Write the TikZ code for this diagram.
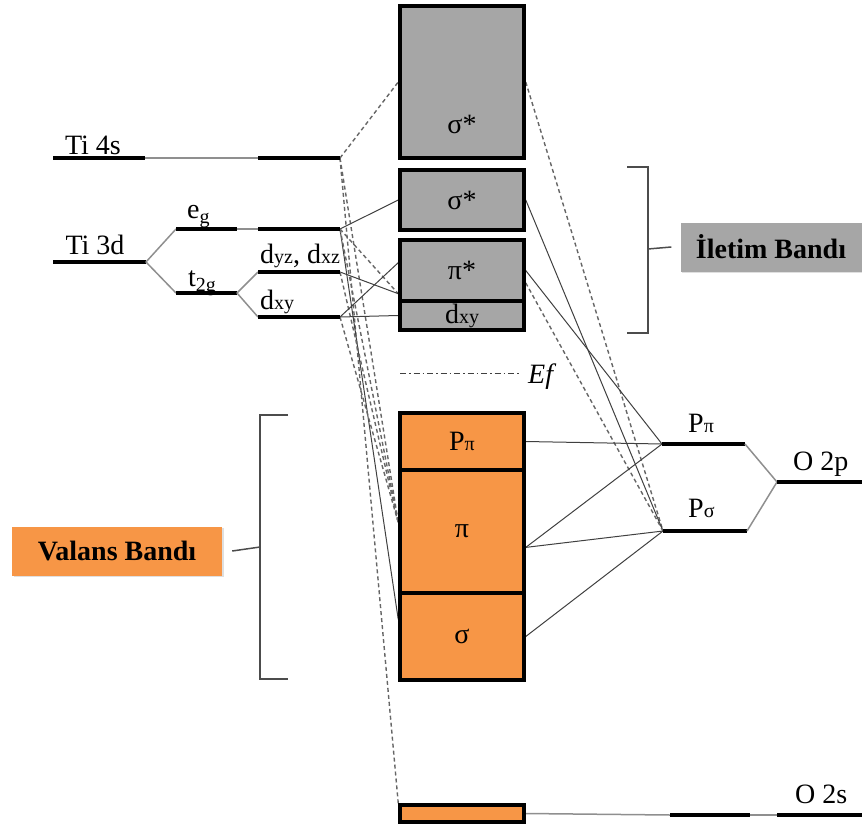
\documentclass[tikz,border=0pt]{standalone}
\usepackage{fontspec}
\setmainfont{Liberation Serif}
\usepackage{tikz}
\usetikzlibrary{positioning, shadows}

\definecolor{condgray}{HTML}{A6A6A6}
\definecolor{valorange}{HTML}{F79646}
\definecolor{splitgray}{HTML}{8F8F8F}
\definecolor{linegray}{HTML}{404040}

\newcommand{\mofont}{\fontsize{28}{30}\selectfont}
\newcommand{\smallsub}[1]{{\fontsize{20}{22}\selectfont #1}}
\newcommand{\lowsub}[1]{\raisebox{-5pt}{\smallsub{#1}}}

\begin{document}
\begin{tikzpicture}[x=1pt, y=-1pt,
    band/.style={draw, line width=3.5pt, minimum width=124pt, inner sep=0pt, font=\mofont},
    cond/.style={fill=condgray},
    val/.style={fill=valorange},
    lbl/.style={font=\mofont, inner sep=0pt},
    lvl/.style={line width=4pt},
    gap/.style={line width=1.5pt, draw=splitgray},
    conn/.style={line width=1pt, draw=linegray},
    dconn/.style={line width=1.4pt, draw=linegray!80, dash pattern=on 4pt off 3pt},
    bracket/.style={line width=1.5pt, draw=black!70},
    tag/.style={font=\mofont\bfseries, minimum width=181pt, minimum height=49pt,
                inner sep=0pt, drop shadow={opacity=0.25, shadow xshift=1.5pt, shadow yshift=-1.5pt}}
]
\useasboundingbox (0,0) rectangle (862,827);

% Ti levels
\coordinate (s4a) at (53,158);  \coordinate (s4b) at (145,158);
\coordinate (s4c) at (258,158); \coordinate (s4R) at (340,158);
\coordinate (d3a) at (53,262);  \coordinate (d3b) at (146,262);
\coordinate (ega) at (176,229); \coordinate (egb) at (237,229);
\coordinate (egc) at (258,229); \coordinate (egR) at (340,229);
\coordinate (t2a) at (176,293); \coordinate (t2b) at (237,293);
\coordinate (dyzL) at (258,272); \coordinate (dyzR) at (340,272);
\coordinate (dxyL) at (258,317); \coordinate (dxyR) at (340,317);

% O levels
\coordinate (ppL) at (662,444); \coordinate (ppR) at (745,444);
\coordinate (psL) at (663,531); \coordinate (psR) at (747,531);
\coordinate (o2pL) at (777,482); \coordinate (o2pR) at (862,482);
\coordinate (o2sa) at (670,815); \coordinate (o2sb) at (750,815);
\coordinate (o2sc) at (777,815); \coordinate (o2sd) at (862,815);

% Bands (geometry only, drawn later on top)
\path (462,82) node[band, cond, minimum height=152pt] (sigTop) {}
      (462,200) node[band, cond, minimum height=60pt] (sigB) {}
      (462,270.5) node[band, cond, minimum height=61pt] (piS) {}
      (462,315.5) node[band, cond, minimum height=29pt] (dxyB) {}
      (462,441.5) node[band, val, minimum height=57pt] (ppB) {}
      (462,531.5) node[band, val, minimum height=123pt] (piB) {}
      (462,636.5) node[band, val, minimum height=87pt] (sigBot) {}
      (462,813.5) node[band, val, minimum height=17pt] (o2sB) {};

% Ti side connectors
\draw[dconn] (s4R) -- (sigTop.west);
\draw[dconn] (s4R) -- (o2sB.north west);
\draw[dconn] (s4R) -- (piB.172);
\draw[conn]  (egR) -- (sigB.west);
\draw[dconn] (egR) -- (piS.200);
\draw[conn]  (egR) -- (sigBot.165);
\draw[dconn] (egR) -- (piB.172);
\draw[conn]  (dyzR) -- (piS.200);
\draw[dconn] (dyzR) -- (piB.172);
\draw[conn]  (dxyR) -- (piS.173);
\draw[conn]  (dxyR) -- (dxyB.west);
\draw[dconn] (dxyR) -- (piB.172);

% O side connectors
\draw[dconn] (sigTop.east) -- (psL);
\draw[conn]  (sigB.east) -- (psL);
\draw[conn]  (piS.east) -- (ppL);
\draw[dconn] (piS.349) -- (psL);
\draw[conn]  (ppB.east) -- (ppL);
\draw[conn]  (piB.346) -- (ppL);
\draw[conn]  (piB.346) -- (psL);
\draw[conn]  (sigBot.east) -- (psL);
\draw[gap]   (o2sB.east) -- (o2sa);

% Bands on top
\node[band, cond, minimum height=152pt] at (sigTop) {};
\node[band, cond, minimum height=60pt] at (sigB) {σ*};
\node[band, cond, minimum height=61pt] at (piS) {π*};
\node[band, cond, minimum height=29pt] at (dxyB) {d\smallsub{xy}};
\node[band, val, minimum height=57pt] at (ppB) {P\smallsub{π}};
\node[band, val, minimum height=123pt] at (piB) {π};
\node[band, val, minimum height=87pt] at (sigBot) {σ};
\node[band, val, minimum height=17pt] at (o2sB) {};
\node[lbl] (sigTopT) at (462,124) {σ*};

% Fermi level
\coordinate (efL) at (400,373); \coordinate (efR) at (521,373);
\draw[line width=1pt, draw=linegray, dash pattern=on 6pt off 3pt on 1.5pt off 3pt] (efL) -- (efR);
\node[lbl, anchor=base west] (ef) at (528,383) {\textit{Ef}};

% Ti level lines
\draw[lvl] (s4a) -- (s4b);  \draw[gap] (s4b) -- (s4c);  \draw[lvl] (s4c) -- (s4R);
\draw[lvl] (d3a) -- (d3b);
\draw[gap] (d3b) -- (ega);  \draw[gap] (d3b) -- (t2a);
\draw[lvl] (ega) -- (egb);  \draw[gap] (egb) -- (egc);  \draw[lvl] (egc) -- (egR);
\draw[lvl] (t2a) -- (t2b);
\draw[gap] (t2b) -- (dyzL); \draw[gap] (t2b) -- (dxyL);
\draw[lvl] (dyzL) -- (dyzR);
\draw[lvl] (dxyL) -- (dxyR);

% O level lines
\draw[lvl] (ppL) -- (ppR);
\draw[lvl] (psL) -- (psR);
\draw[gap] (ppR) -- (o2pL); \draw[gap] (psR) -- (o2pL);
\draw[lvl] (o2pL) -- (o2pR);
\draw[lvl] (o2sa) -- (o2sb); \draw[gap] (o2sb) -- (o2sc); \draw[lvl] (o2sc) -- (o2sd);

% Level labels
\node[lbl] (ti4s) at (93,145) {Ti 4s};
\node[lbl] (ti3d) at (95,245) {Ti 3d};
\node[lbl, anchor=base west] (egT) at (187,218) {e\lowsub{g}};
\node[lbl, anchor=base west] (t2gT) at (188,286) {t\lowsub{2g}};
\node[lbl, anchor=base west] (dyzT) at (260,263) {d\smallsub{yz}, d\smallsub{xz}};
\node[lbl, anchor=base west] (dxyT) at (260,309) {d\smallsub{xy}};
\node[lbl, anchor=base west] (ppT) at (688,432) {P\smallsub{π}};
\node[lbl, anchor=base west] (psT) at (688,517) {P\smallsub{σ}};
\node[lbl, anchor=base west] (o2pT) at (793,470) {O 2p};
\node[lbl, anchor=base west] (o2sT) at (795,803) {O 2s};

% Band brackets and tags
\node[tag, fill=condgray] (ilet) at (771,247) {İletim Bandı};
\node[tag, fill=valorange, minimum width=210pt] (vals) at (117,551) {Valans Bandı};
\draw[bracket] (627,167) -- (648,167) -- (648,333) -- (627,333);
\draw[bracket] (648,249) -- ([xshift=-9pt]ilet.west);
\draw[bracket] (288,415) -- (260,415) -- (260,679) -- (288,679);
\draw[bracket] (260,547) -- ([xshift=10pt]vals.east);

\end{tikzpicture}
\end{document}
